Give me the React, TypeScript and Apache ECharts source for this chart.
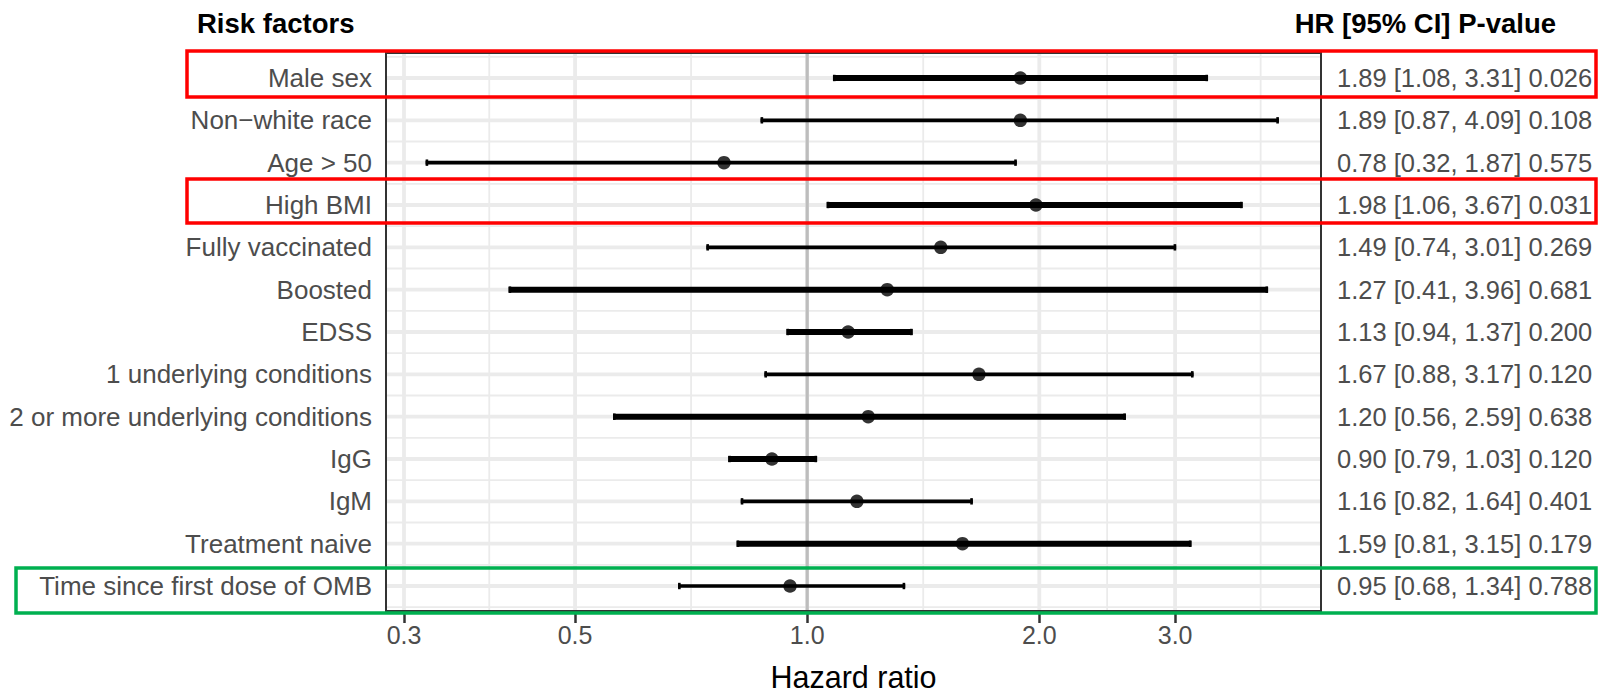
import React, { useEffect, useRef } from 'react';
import * as echarts from 'echarts';

const factors = [
  'Male sex',
  'Non\u2212white race',
  'Age > 50',
  'High BMI',
  'Fully vaccinated',
  'Boosted',
  'EDSS',
  '1 underlying conditions',
  '2 or more underlying conditions',
  'IgG',
  'IgM',
  'Treatment naive',
  'Time since first dose of OMB',
];
const hr = [1.89, 1.89, 0.78, 1.98, 1.49, 1.27, 1.13, 1.67, 1.2, 0.9, 1.16, 1.59, 0.95];
const lower = [1.08, 0.87, 0.32, 1.06, 0.74, 0.41, 0.94, 0.88, 0.56, 0.79, 0.82, 0.81, 0.68];
const upper = [3.31, 4.09, 1.87, 3.67, 3.01, 3.96, 1.37, 3.17, 2.59, 1.03, 1.64, 3.15, 1.34];
const pValues = ['0.026', '0.108', '0.575', '0.031', '0.269', '0.681', '0.200', '0.120', '0.638', '0.120', '0.401', '0.179', '0.788'];
const xTicks = [0.3, 0.5, 1.0, 2.0, 3.0];
const xMinorTicks = [0.387, 0.707, 1.414, 2.449, 3.873];
const refValue = 1.0;

// style: which rows use the heavier CI line
const heavyLine = [true, false, false, true, false, true, true, false, true, true, false, true, false];

const FONT = '"Liberation Sans", Arial, sans-serif';

export default function App() {
  const ref = useRef<HTMLDivElement>(null);

  useEffect(() => {
    const chart = echarts.init(ref.current as HTMLDivElement, null, { renderer: 'svg' });
    const rows = factors.map((_, i) => i + 1);
    const minorRows = [0.5, ...rows.map((r) => r + 0.5)];
    const statsText = factors.map(
      (_, i) => `${hr[i].toFixed(2)} [${lower[i].toFixed(2)}, ${upper[i].toFixed(2)}] ${pValues[i]}`
    );

    const yBase = {
      type: 'value',
      inverse: true,
      min: 0.41,
      max: 13.59,
      axisLine: { show: false },
      axisTick: { show: false },
      splitLine: { show: false },
    };

    chart.setOption({
      animation: false,
      grid: {
        left: 386,
        right: 280,
        top: 53,
        bottom: 82,
        show: true,
        borderColor: '#333333',
        borderWidth: 2,
        backgroundColor: '#ffffff',
        containLabel: false,
        outerBoundsMode: 'none',
      },
      xAxis: {
        type: 'log',
        logBase: 10,
        min: 0.2843,
        max: 4.638,
        axisLine: { show: false },
        splitLine: { show: false },
        minorTick: { show: false },
        minorSplitLine: { show: false },
        axisTick: {
          show: true,
          customValues: xTicks,
          length: 12,
          lineStyle: { color: '#333333', width: 2.5 },
        },
        axisLabel: {
          customValues: xTicks,
          formatter: (v: number) => Number(v).toFixed(1),
          color: '#4D4D4D',
          fontSize: 25,
          fontFamily: FONT,
          margin: 11,
        },
        name: 'Hazard ratio',
        nameLocation: 'middle',
        nameGap: 50,
        nameTextStyle: { color: '#000000', fontSize: 30.5, fontFamily: FONT },
      },
      yAxis: [
        {
          ...yBase,
          position: 'left',
          axisLabel: {
            customValues: rows,
            formatter: (v: number) => factors[Math.round(v) - 1] ?? '',
            color: '#4D4D4D',
            fontSize: 26,
            fontFamily: FONT,
            margin: 14,
          },
        },
        {
          ...yBase,
          position: 'right',
          axisLabel: {
            customValues: rows,
            formatter: (v: number) => statsText[Math.round(v) - 1] ?? '',
            color: '#4D4D4D',
            fontSize: 25.5,
            fontFamily: FONT,
            margin: 16,
          },
        },
      ],
      series: [
        {
          type: 'custom',
          name: 'grid',
          z: 1,
          silent: true,
          xAxisIndex: 0,
          yAxisIndex: 0,
          data: [[1, 1]],
          renderItem: (params: any, api: any) => {
            const cs = params.coordSys;
            const top = cs.y + 1;
            const bottom = cs.y + cs.height - 1;
            const left = cs.x + 1;
            const right = cs.x + cs.width - 1;
            const children: any[] = [];
            minorRows.forEach((r) => {
              const y = api.coord([1, r])[1];
              children.push({ type: 'line', shape: { x1: left, y1: y, x2: right, y2: y }, style: { stroke: '#EBEBEB', lineWidth: 1.8 } });
            });
            xMinorTicks.forEach((v) => {
              const x = api.coord([v, 1])[0];
              children.push({ type: 'line', shape: { x1: x, y1: top, x2: x, y2: bottom }, style: { stroke: '#EBEBEB', lineWidth: 1.8 } });
            });
            rows.forEach((r) => {
              const y = api.coord([1, r])[1];
              children.push({ type: 'line', shape: { x1: left, y1: y, x2: right, y2: y }, style: { stroke: '#EBEBEB', lineWidth: 3.8 } });
            });
            xTicks.forEach((v) => {
              const x = api.coord([v, 1])[0];
              children.push({ type: 'line', shape: { x1: x, y1: top, x2: x, y2: bottom }, style: { stroke: '#EBEBEB', lineWidth: 3.8 } });
            });
            const rx = api.coord([refValue, 1])[0];
            children.push({ type: 'line', shape: { x1: rx, y1: top, x2: rx, y2: bottom }, style: { stroke: '#BDBDBD', lineWidth: 3.2 } });
            return { type: 'group', children };
          },
        },
        {
          type: 'custom',
          name: 'CI',
          z: 3,
          xAxisIndex: 0,
          yAxisIndex: 0,
          encode: { x: [0, 1], y: 2 },
          data: factors.map((_, i) => [lower[i], upper[i], i + 1, heavyLine[i] ? 1 : 0]),
          renderItem: (params: any, api: any) => {
            const lo = api.coord([api.value(0), api.value(2)]);
            const hi = api.coord([api.value(1), api.value(2)]);
            const w = api.value(3) ? 6 : 3.7;
            const capH = 3.2;
            return {
              type: 'group',
              children: [
                { type: 'line', shape: { x1: lo[0], y1: lo[1], x2: hi[0], y2: hi[1] }, style: { stroke: '#000000', lineWidth: w } },
                { type: 'line', shape: { x1: lo[0] + 1.3, y1: lo[1] - capH, x2: lo[0] + 1.3, y2: lo[1] + capH }, style: { stroke: '#000000', lineWidth: 2.6 } },
                { type: 'line', shape: { x1: hi[0] - 1.3, y1: hi[1] - capH, x2: hi[0] - 1.3, y2: hi[1] + capH }, style: { stroke: '#000000', lineWidth: 2.6 } },
              ],
            };
          },
        },
        {
          type: 'scatter',
          name: 'HR',
          z: 4,
          xAxisIndex: 0,
          yAxisIndex: 0,
          symbol: 'circle',
          symbolSize: 13.5,
          itemStyle: { color: '#000000' },
          data: factors.map((_, i) => [hr[i], i + 1]),
        },
      ],
    });

    const rowPx = (r: number) => chart.convertToPixel({ yAxisIndex: 0 }, r) as number;
    const y1 = rowPx(1);
    const y4 = rowPx(4);
    const y13 = rowPx(13);

    chart.setOption({
      graphic: [
        {
          type: 'text',
          x: 197,
          y: 23,
          style: { text: 'Risk factors', font: `bold 27.5px ${FONT}`, fill: '#000000', align: 'left', verticalAlign: 'middle' },
        },
        {
          type: 'text',
          x: 1556,
          y: 23,
          style: { text: 'HR [95% CI] P-value', font: `bold 27.5px ${FONT}`, fill: '#000000', align: 'right', verticalAlign: 'middle' },
        },
        {
          type: 'rect',
          z: 100,
          shape: { x: 187, y: y1 - 27, width: 1409, height: 46 },
          style: { fill: 'none', stroke: '#FF0000', lineWidth: 3.5 },
        },
        {
          type: 'rect',
          z: 100,
          shape: { x: 187, y: y4 - 26, width: 1409, height: 44 },
          style: { fill: 'none', stroke: '#FF0000', lineWidth: 3.5 },
        },
        {
          type: 'rect',
          z: 100,
          shape: { x: 16, y: y13 - 18, width: 1580, height: 45 },
          style: { fill: 'none', stroke: '#00B050', lineWidth: 3.5 },
        },
      ],
    });

    return () => chart.dispose();
  }, []);

  return (
    <div
      ref={ref}
      style={{ position: 'fixed', left: 0, top: 0, width: 1601, height: 693, background: '#ffffff' }}
    />
  );
}
